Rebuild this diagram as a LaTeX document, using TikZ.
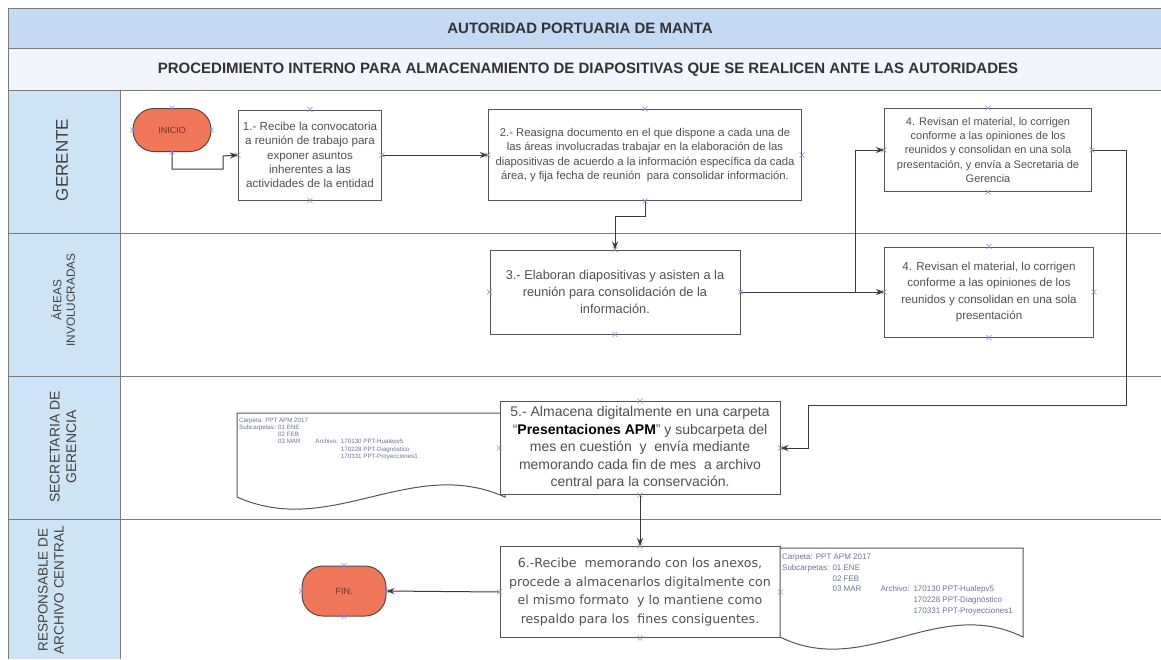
\documentclass[tikz,border=0pt]{standalone}
\usepackage{fontspec}
\setmainfont{Liberation Sans}
\newfontfamily\widesans{DejaVu Sans}
\usetikzlibrary{arrows.meta}
\definecolor{bandblue}{HTML}{C4DAF2}
\definecolor{subband}{HTML}{F2F5FC}
\definecolor{laneblue}{HTML}{CDE4F7}
\definecolor{laneline}{HTML}{7A7A7A}
\definecolor{boxgray}{HTML}{555555}
\definecolor{textgray}{HTML}{505050}
\definecolor{termred}{HTML}{F0765A}
\definecolor{termline}{HTML}{5A4640}
\definecolor{termtext}{HTML}{7A3020}
\definecolor{flowgray}{HTML}{3A3A3A}
\definecolor{doctext}{HTML}{6A7595}
\definecolor{pinblue}{HTML}{8A8AD8}
\definecolor{lanetext}{HTML}{404040}
\tikzset{
  proc/.style={draw=boxgray, line width=1pt, fill=white, text=textgray, align=center, inner sep=2pt},
  term/.style={draw=termline, line width=1pt, fill=termred, rounded corners=21pt, text=termtext,
    font=\fontsize{9}{11}\selectfont},
  flow/.style={-{Stealth[length=8pt,width=6pt]}, line width=1pt, draw=flowgray},
  lanetxt/.style={rotate=90, align=center, text=lanetext},
  docline/.style={draw=boxgray, line width=1pt, fill=white},
  doctxt/.style={anchor=north west, text=doctext, inner sep=0pt},
  pin/.style={draw=pinblue, line width=0.6pt},
  headtxt/.style={text=black!80, font=\bfseries\fontsize{15}{17}\selectfont}
}
\newcommand{\docsheet}[4]{%
  \filldraw[docline] (#1,#2) -- (#3,#2) -- (#3,#4)
    .. controls ({#3-0.35*(#3-#1)},{#4-42}) and ({#1+0.35*(#3-#1)},{#4+42}) .. (#1,#4) -- cycle;}
\newcommand{\archivelist}{%
  \begin{tabular}{@{}l@{\hspace{0.4em}}l@{\hspace{2.4em}}l@{\hspace{0.5em}}l@{}}
    \multicolumn{4}{@{}l}{Carpeta: PPT APM 2017}\\
    Subcarpetas: & 01 ENE & & \\
    & 02 FEB & & \\
    & 03 MAR & Archivo: & 170130 PPT-Hualepv5\\
    & & & 170228 PPT-Diagnóstico\\
    & & & 170331 PPT-Proyecciones1
  \end{tabular}}

\begin{document}
\begin{tikzpicture}[x=1pt, y=-1pt]
  \useasboundingbox (0,0) rectangle (1161,659);
  \fill[white] (0,0) rectangle (1161,659);
  \fill[bandblue] (8,8) rectangle (1161,48);
  \fill[subband] (8,48) rectangle (1161,90);
  \fill[laneblue] (8,90) rectangle (120,659);
  \draw[laneline, line width=0.8pt] (8,8) -- (1161,8);
  \draw[laneline, line width=0.8pt] (8,48) -- (1161,48);
  \foreach \y in {90,233,376,519}
    \draw[laneline, line width=1pt] (8,\y) -- (1161,\y);
  \draw[laneline, line width=1pt] (8,8) -- (8,659);
  \draw[laneline, line width=1pt] (120,90) -- (120,659);

  \node[headtxt] (title) at (580,28) {AUTORIDAD PORTUARIA DE MANTA};
  \node[headtxt] (subtitle) at (588,70) {PROCEDIMIENTO INTERNO PARA ALMACENAMIENTO DE DIAPOSITIVAS QUE SE REALICEN ANTE LAS AUTORIDADES};

  \node[lanetxt, font=\fontsize{17}{19}\selectfont] (lgerente) at (62,160) {GERENTE};
  \node[lanetxt, font=\fontsize{11.8}{13.5}\selectfont] (lareas) at (63,300) {ÁREAS\\INVOLUCRADAS};
  \node[lanetxt, font=\fontsize{14}{16.5}\selectfont] (lsecre) at (63,447) {SECRETARIA DE\\GERENCIA};
  \node[lanetxt, font=\fontsize{13.5}{16}\selectfont] (lresp) at (51,590) {RESPONSABLE DE\\ARCHIVO CENTRAL};

  \node[term, minimum width=78, minimum height=43] (inicio) at (172,130) {INICIO};
  \node[proc, minimum width=143, minimum height=90, font=\fontsize{11.6}{14.3}\selectfont] (box1) at (310,155)
    {1.- Recibe la convocatoria\\a reunión de trabajo para\\exponer asuntos\\inherentes a las\\actividades de la entidad};
  \node[proc, minimum width=313, minimum height=91, font=\fontsize{11.3}{14.5}\selectfont] (box2) at (645,155)
    {2.- Reasigna documento en el que dispone a cada una de\\las áreas involucradas trabajar en la elaboración de las\\diapositivas de acuerdo a la información específica da cada\\área, y fija fecha de reunión\ \ para consolidar información.};
  \node[proc, minimum width=207, minimum height=83, font=\fontsize{11}{14.3}\selectfont] (box4a) at (988,150)
    {4. Revisan el material, lo corrigen\\conforme a las opiniones de los\\reunidos y consolidan en una sola\\presentación, y envía a Secretaria de\\Gerencia};
  \node[proc, minimum width=250, minimum height=84, font=\fontsize{12.8}{17}\selectfont] (box3) at (615,292)
    {3.- Elaboran diapositivas y asisten a la\\reunión para consolidación de la\\información.};
  \node[proc, minimum width=209, minimum height=90, font=\fontsize{11.6}{16.5}\selectfont] (box4b) at (989,292)
    {4. Revisan el material, lo corrigen\\conforme a las opiniones de los\\reunidos y consolidan en una sola\\presentación};

  \docsheet{237}{413}{505}{497}
  \node[doctxt, font=\fontsize{6.2}{7.2}\selectfont] (doc1) at (239,417) {\archivelist};
  \node[proc, minimum width=280, minimum height=93, font=\fontsize{14}{17.5}\selectfont] (box5) at (640,448)
    {5.- Almacena digitalmente en una carpeta\\``\textbf{\color{black}Presentaciones APM}'' y subcarpeta del\\mes en cuestión\ \ y\ \ envía mediante\\memorando cada fin de mes\ \ a archivo\\central para la conservación.};

  \node[proc, minimum width=280, minimum height=91, font=\widesans\fontsize{12.6}{18.5}\selectfont] (box6) at (640,592)
    {6.-Recibe\ \ memorando con los anexos,\\procede a almacenarlos digitalmente con\\el mismo formato\ \ y lo mantiene como\\respaldo para los\ \ fines consiguentes.};
  \docsheet{780}{548}{1023}{637}
  \node[doctxt, font=\fontsize{8}{10.7}\selectfont] (doc2) at (782,552) {\archivelist};
  \node[term, minimum width=84, minimum height=50] (fin) at (344,591) {FIN.};

  \coordinate (split) at (855,292);
  \coordinate (loopR) at (1126,405);
  \coordinate (loopL) at (808,405);
  \draw[flow] (inicio.south) -- ++(0,17) -| ++(51,-13) -- (box1.west);
  \draw[flow] (box1.east) -- (box2.west);
  \draw[flow] (box2.south) -- ++(0,15) -| (box3.north);
  \draw[flow] (box3.east) -- (box4b.west);
  \draw[flow] (split) |- (box4a.west);
  \draw[flow] (box4a.east) -| (loopR) -- (loopL) |- (box5.east);
  \draw[flow] (box5.south) -- (box6.north);
  \draw[flow] (box6.west) -- (fin.east);

  \foreach \n in {inicio,box1,box2,box3,box4a,box4b,box5,box6,fin}
    \foreach \a in {north,south,east,west}
      \draw[pin] (\n.\a) +(-2.5,-2.5) -- +(2.5,2.5) +(-2.5,2.5) -- +(2.5,-2.5);
\end{tikzpicture}
\end{document}
